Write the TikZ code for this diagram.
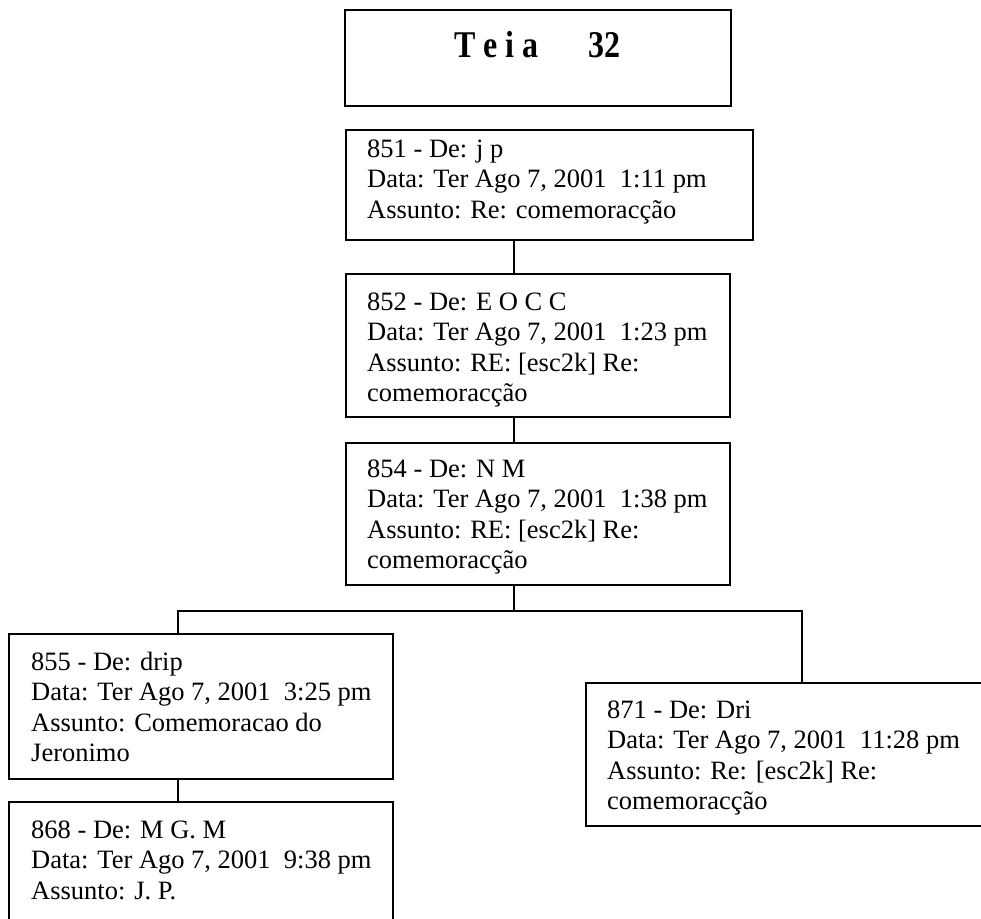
\documentclass[tikz,border=0pt]{standalone}
\usepackage{graphicx}
\usepackage{fontspec}
\setmainfont{Liberation Serif}
\begin{document}
\begin{tikzpicture}[x=1pt,y=-1pt,
  box/.style={draw=black, line width=1.6pt, rectangle, inner sep=0pt, outer sep=0pt, anchor=north west},
  msg/.style={anchor=base west, inner sep=0pt, font=\fontsize{26.5pt}{30.5pt}\selectfont},
  link/.style={draw=black, line width=1.6pt, line cap=rect}]
\useasboundingbox (0,0) rectangle (981,918);
\clip (0,0) rectangle (981,918);

% title
\node[box, minimum width=386pt, minimum height=96pt] (title) at (345,10) {};
\node[anchor=base west, inner sep=0pt, font=\fontsize{32pt}{36pt}\selectfont\bfseries]
  (titletext) at (454,57) {\scalebox{1}[1.18]{T e i a\hspace{50pt}32}};

% message boxes
\node[box, minimum width=407pt, minimum height=110pt] (b851) at (346,130) {};
\node[box, minimum width=384pt, minimum height=143pt] (b852) at (346,274) {};
\node[box, minimum width=384pt, minimum height=142pt] (b854) at (346,443) {};
\node[box, minimum width=384pt, minimum height=145pt] (b855) at (9,634) {};
\node[box, minimum width=384pt, minimum height=160pt] (b868) at (9,802) {};
\node[box, minimum width=420pt, minimum height=143pt] (b871) at (586,683) {};

% message texts
\node[msg] (t851) at (367,157) {\parbox[t]{380pt}{851 - De: j p\\Data: Ter Ago 7, 2001\ \ 1:11 pm\\Assunto: Re: comemoracção}};
\node[msg] (t852) at (367,310) {\parbox[t]{360pt}{852 - De: E O C C\\Data: Ter Ago 7, 2001\ \ 1:23 pm\\Assunto: RE: [esc2k] Re:\\comemoracção}};
\node[msg] (t854) at (367,477) {\parbox[t]{360pt}{854 - De: N M\\Data: Ter Ago 7, 2001\ \ 1:38 pm\\Assunto: RE: [esc2k] Re:\\comemoracção}};
\node[msg] (t855) at (31,670) {\parbox[t]{360pt}{855 - De: drip\\Data: Ter Ago 7, 2001\ \ 3:25 pm\\Assunto: Comemoracao do\\Jeronimo}};
\node[msg] (t868) at (31,838) {\parbox[t]{360pt}{868 - De: M G. M\\Data: Ter Ago 7, 2001\ \ 9:38 pm\\Assunto: J. P.}};
\node[msg] (t871) at (607,718) {\parbox[t]{380pt}{871 - De: Dri\\Data: Ter Ago 7, 2001\ \ 11:28 pm\\Assunto: Re: [esc2k] Re:\\comemoracção}};

% connector junctions
\coordinate (jm) at (514,611);
\coordinate (jl) at (178,611);
\coordinate (jr) at (802,611);

\draw[link] (b851.south -| jm) -- (b852.north -| jm);
\draw[link] (b852.south -| jm) -- (b854.north -| jm);
\draw[link] (b854.south -| jm) -- (jm);
\draw[link] (b855.north -| jl) -- (jl) -- (jr) -- (b871.north -| jr);
\draw[link] (b855.south -| jl) -- (b868.north -| jl);
\end{tikzpicture}
\end{document}
